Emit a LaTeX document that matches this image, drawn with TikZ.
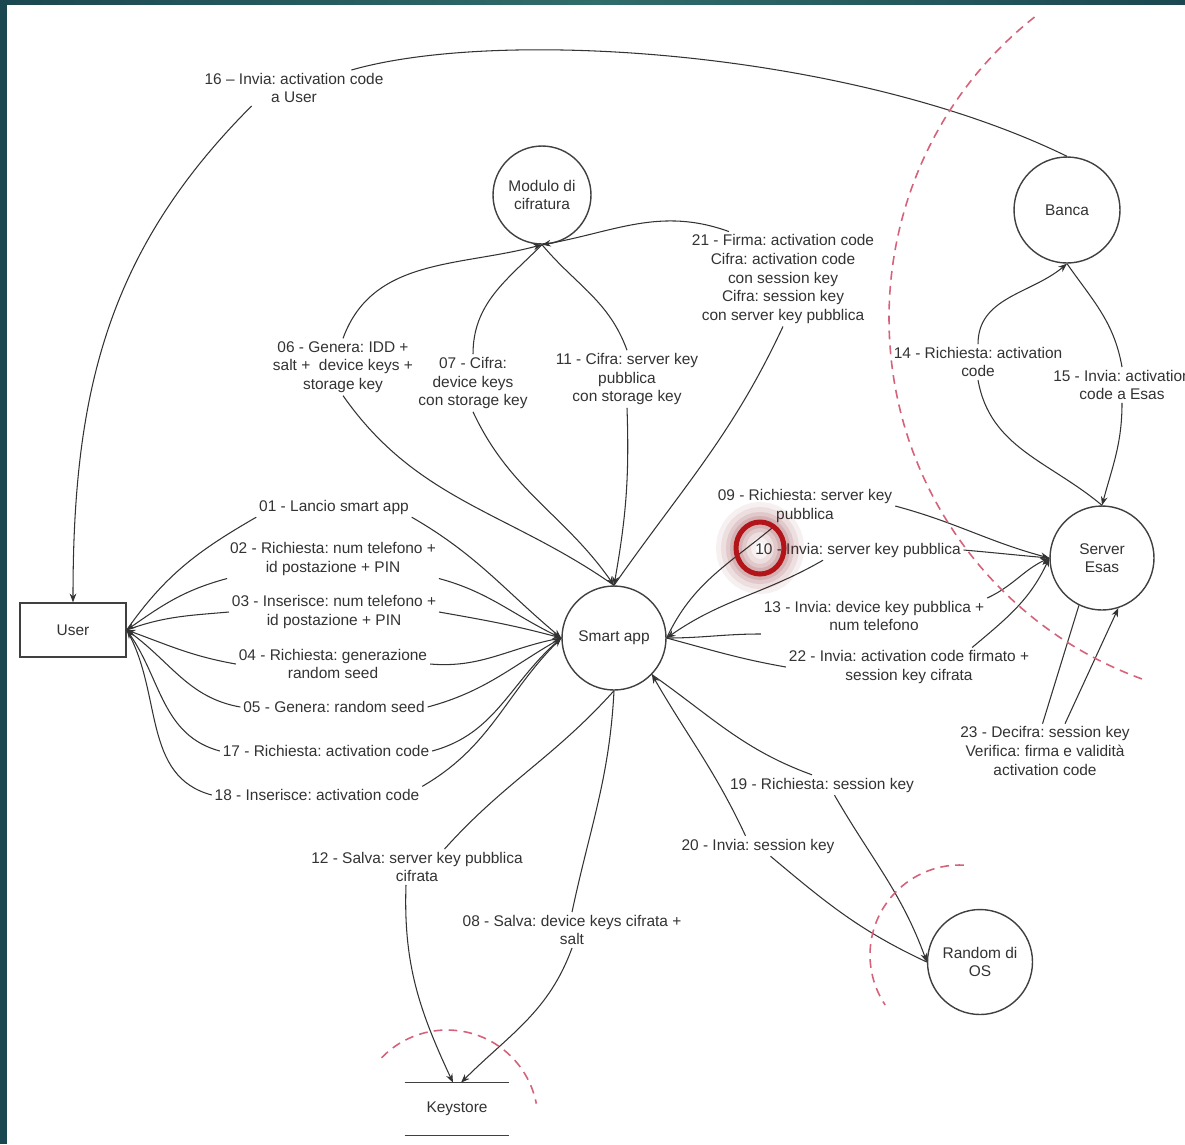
\documentclass[tikz,border=0pt]{standalone}
\usepackage{fontspec}
\setmainfont{Liberation Sans}
\frenchspacing
\usetikzlibrary{arrows.meta}
\definecolor{framedark}{RGB}{27,72,80}
\definecolor{framemid}{RGB}{48,108,106}
\definecolor{zonered}{RGB}{214,98,122}
\definecolor{markred}{RGB}{178,20,26}
\newcommand{\lblfont}{\fontsize{8.8}{10.6}\selectfont}

\begin{document}
\begin{tikzpicture}[x=0.02cm,y=-0.02cm,>={Stealth[length=5pt,width=3.8pt]},
  proc/.style={circle,draw=black!75,line width=0.8pt,minimum size=2.08cm,inner sep=1pt,align=center,font=\lblfont,text=black!80},
  ent/.style={rectangle,draw=black!75,line width=0.8pt,minimum width=2.12cm,minimum height=1.08cm,font=\lblfont,text=black!80},
  store/.style={minimum width=2.08cm,minimum height=1.04cm,font=\lblfont,text=black!80},
  lbl/.style={fill=white,inner sep=1.5pt,align=center,font=\lblfont,text=black!80},
  flow/.style={->,draw=black!80,line width=0.6pt},
  zone/.style={draw=zonered,line width=0.9pt,dash pattern=on 5pt off 3.5pt}]
  \useasboundingbox (0,0) rectangle (1185,1144);
  \fill[framedark] (0,0) rectangle (1185,1144);
  \shade[left color=framedark,right color=framedark,middle color=framemid] (0,0) rectangle (1185,5);
  \fill[white] (7,5) rectangle (1185,1144);

  \node[ent] (user) at (73,630) {User};
  \node[proc] (app) at (614,638) {Smart app};
  \node[proc,minimum size=1.96cm] (mod) at (542,195) {Modulo di\\cifratura};
  \node[proc,minimum size=2.12cm] (banca) at (1067,210) {Banca};
  \node[proc] (server) at (1102,558) {Server\\Esas};
  \node[proc,minimum size=2.1cm] (rand) at (980,962) {Random di\\OS};
  \node[store] (ks) at (457,1109) {Keystore};

  \node[lbl] (l16) at (294,88) {16 – Invia: activation code\\a User};
  \node[lbl] (l06) at (343,367) {06 - Genera: IDD +\\salt +\ \ device keys +\\storage key};
  \node[lbl] (l07) at (473,383) {07 - Cifra:\\device keys\\con storage key};
  \node[lbl] (l11) at (627,379) {11 - Cifra: server key\\pubblica\\con storage key};
  \node[lbl] (l21) at (783,279) {21 - Firma: activation code\\Cifra: activation code\\con session key\\Cifra: session key\\con server key pubblica};
  \node[lbl] (l14) at (978,362) {14 - Richiesta: activation\\code};
  \node[lbl] (l15) at (1122,385) {15 - Invia: activation\\code a Esas};
  \node[lbl] (l09) at (805,506) {09 - Richiesta: server key\\pubblica};
  \node[lbl] (l10) at (858,550) {10 - Invia: server key pubblica};
  \node[lbl] (l13) at (874,616) {13 - Invia: device key pubblica +\\num telefono};
  \node[lbl] (l22) at (909,667) {22 - Invia: activation code firmato +\\session key cifrata};
  \node[lbl] (l23) at (1045,751) {23 - Decifra: session key\\Verifica: firma e validità\\activation code};
  \node[lbl] (l19) at (822,785) {19 - Richiesta: session key};
  \node[lbl] (l20) at (758,846) {20 - Invia: session key};
  \node[lbl] (l12) at (417,867) {12 - Salva: server key pubblica\\cifrata};
  \node[lbl] (l08) at (572,930) {08 - Salva: device keys cifrata +\\salt};
  \node[lbl] (l01) at (334,507) {01 - Lancio smart app};
  \node[lbl] (l02) at (333,559) {02 - Richiesta: num telefono +\\id postazione + PIN};
  \node[lbl] (l03) at (334,612) {03 - Inserisce: num telefono +\\id postazione + PIN};
  \node[lbl] (l04) at (333,664) {04 - Richiesta: generazione\\random seed};
  \node[lbl] (l05) at (334,707) {05 - Genera: random seed};
  \node[lbl] (l17) at (326,751) {17 - Richiesta: activation code};
  \node[lbl] (l18) at (317,795) {18 - Inserisce: activation code};

  \draw[flow] (user.east) to[out=55,in=210] (l01.south west) (l01.south east) to[out=-30,in=140] (app.west);
  \draw[flow] (app.west) to[out=155,in=-15] (l02.south east) (l02.south west) to[out=195,in=35] (user.east);
  \draw[flow] (user.east) to[out=20,in=185] (l03.west) (l03.east) to[out=-10,in=165] (app.west);
  \draw[flow] (app.west) to[out=190,in=-5] (l04.east) (l04.west) to[out=170,in=-20] (user.east);
  \draw[flow] (user.east) to[out=-35,in=170] (l05.west) (l05.east) to[out=15,in=-150] (app.west);
  \draw[flow] (app.west) to[out=-140,in=15] (l17.east) (l17.west) to[out=165,in=-55] (user.east);
  \draw[flow] (user.east) to[out=-60,in=165] (l18.west) (l18.north east) to[out=30,in=-135] (app.west);

  \draw[flow] (app.north) to[out=145,in=-55] (l06.south) (l06.north) to[out=70,in=195] (mod.south);
  \draw[flow] (app.north) to[out=55,in=-115] (l21.south) ([xshift=0.8cm]l21.north west) to[out=160,in=10] (mod.south);
  \draw[flow] (mod.south) to[out=225,in=90] (l07.north) (l07.south) to[out=-65,in=125] (app.north);
  \draw[flow] (mod.south) to[out=-50,in=110] (l11.north) (l11.south) to[out=-88,in=80] (app.north);

  \draw[flow] (banca.north) to[out=154,in=16,out looseness=0.86,in looseness=0.55] ([xshift=-0.7cm]l16.north east) ([xshift=1cm]l16.south west) to[out=225,in=90] (user.north);
  \draw[flow] (server.north) to[out=140,in=-80] (l14.south) (l14.north) to[out=90,in=220] (banca.south);
  \draw[flow] (banca.south) to[out=-55,in=100] (l15.north) (l15.south) to[out=-90,in=75] (server.north);
  \draw[flow] (server.-116) -- ([xshift=-0.05cm]l23.north) ([xshift=0.4cm]l23.north) -- (server.-72);

  \draw[flow] (app.east) to[out=65,in=-140] ([xshift=-0.6cm]l09.south) (l09.east) to[out=-15,in=165] (server.west);
  \draw[flow] (server.west) to[out=175,in=-5] (l10.east) ([xshift=-0.7cm]l10.south) to[out=210,in=35] (app.east);
  \draw[flow] (app.east) to[out=0,in=180] (l13.south west) (l13.north east) to[out=25,in=-155] (server.west);
  \draw[flow] (app.east) to[out=-15,in=170] (l22.west) ([xshift=-1.2cm]l22.north east) to[out=40,in=-115] (server.west);

  \draw[flow] (app.-44) to[out=-35,in=160] ([xshift=-0.2cm]l19.north) ([xshift=0.25cm]l19.south) to[out=-60,in=110] (rand.west);
  \draw[flow] (rand.west) to[out=155,in=-40] ([xshift=0.25cm]l20.south) ([xshift=-0.25cm]l20.north) to[out=115,in=-60] (app.-44);
  \draw[flow] (app.south) to[out=228,in=48] ([xshift=0.55cm]l12.north) ([xshift=-0.22cm]l12.south) to[out=-92,in=115] ([xshift=-0.08cm]ks.north);
  \draw[flow] (app.south) to[out=-93,in=78] (l08.north) (l08.south) to[out=-110,in=45] ([xshift=0.08cm]ks.north);

  \draw[black!75,line width=0.8pt] (ks.north west) -- (ks.north east) (ks.south west) -- (ks.south east);

  \draw[zone] (1273,318) ++(231.6:384) arc[start angle=231.6,end angle=109.6,radius=384];
  \draw[zone] (960,955) ++(272.5:90) arc[start angle=272.5,end angle=146.3,radius=90];
  \draw[zone] (447,1121) ++(224:91) arc[start angle=224,end angle=349,radius=91];

  \foreach \w/\o in {40/0.06,30/0.08,20/0.1,12/0.12}
    \draw[markred!70!black,line width=\w*0.02cm,opacity=\o] (760,548) ellipse[x radius=24,y radius=26];
  \draw[markred,line width=0.1cm] (760,548) ellipse[x radius=24,y radius=26];
\end{tikzpicture}
\end{document}
